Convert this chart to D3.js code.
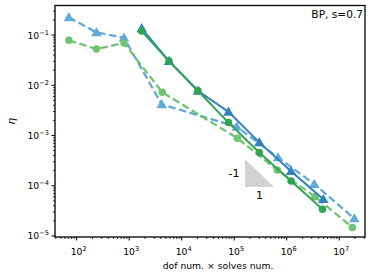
<!DOCTYPE html>
<html><head><meta charset="utf-8">
<script src="https://cdn.jsdelivr.net/npm/d3@7"></script>
<style>body{margin:0;background:#fff}svg{display:block;font-family:"DejaVu Sans",sans-serif}</style>
</head><body><svg id="c" width="374" height="279"></svg>
<script>
// data
const lightX = [71, 238, 796, 4160, 1.12e5, 6.83e5, 3.36e6, 1.94e7];
const lightBlueY = [0.225, 0.113, 0.0883, 0.00417, 0.00149, 3.66e-4, 1.08e-4, 2.23e-5];
const lightGreenX = [71, 238, 796, 4270, 1.15e5, 6.62e5, 3.46e6, 1.78e7];
const lightGreenY = [0.0784, 0.0526, 0.0693, 0.00723, 8.87e-4, 2.05e-4, 6.07e-5, 1.48e-5];
const darkX = [1730, 5730, 2.04e4, 7.78e4, 3.0e5, 1.21e6, 4.98e6];
const darkBlueY = [0.136, 0.0303, 0.00776, 0.00296, 7.3e-4, 1.95e-4, 5.41e-5];
const darkGreenX = [1730, 5730, 2.04e4, 7.78e4, 3.0e5, 1.21e6, 4.8e6];
const darkGreenY = [0.120, 0.0303, 0.00776, 0.00181, 4.6e-4, 1.24e-4, 3.42e-5];
const slopeTri = {x0: 1.6e5, factor: 3.6, y0: 9.5e-5};
const xTickExps = [2, 3, 4, 5, 6, 7];
const yTickExps = [-5, -4, -3, -2, -1];
const title = "BP, s=0.7";
const xLabel = "dof num. \u00d7 solves num.";
const yLabel = "\u03b7";

const svg = d3.select("#c");
const L = 55, R = 365, T = 5.5, B = 237;
const x = d3.scaleLog().domain([Math.pow(10, 1.587), Math.pow(10, 7.491)]).range([L, R]);
const y = d3.scaleLog().domain([Math.pow(10, -5.02), Math.pow(10, -0.412)]).range([B, T]);

const series = [
  {xs: lightX, ys: lightBlueY, color: "#62aad9", dash: "7.5,3.5", marker: "tri", w: 2.3},
  {xs: lightGreenX, ys: lightGreenY, color: "#70c371", dash: "7.5,3.5", marker: "circ", w: 2.3},
  {xs: darkX, ys: darkBlueY, color: "#3182bd", dash: null, marker: "tri", w: 2},
  {xs: darkGreenX, ys: darkGreenY, color: "#31a354", dash: null, marker: "circ", w: 2}
];

const g = svg.append("g");
// slope triangle
const tx0 = slopeTri.x0, tx1 = slopeTri.x0 * slopeTri.factor, ty0 = slopeTri.y0, ty1 = slopeTri.y0 * slopeTri.factor;
g.append("path").attr("d", `M${x(tx0)},${y(ty1)}L${x(tx0)},${y(ty0)}L${x(tx1)},${y(ty0)}Z`).attr("fill", "#d3d3d3");
g.append("text").attr("x", x(tx0) - 5.5).attr("y", (y(ty0) + y(ty1)) / 2 + 4.3).attr("text-anchor", "end").attr("font-size", 11).text("-1");
g.append("text").attr("x", (x(tx0) + x(tx1)) / 2).attr("y", y(ty0) + 11.8).attr("text-anchor", "middle").attr("font-size", 11).text("1");

const line = d3.line().x(d => x(d[0])).y(d => y(d[1]));
series.forEach(s => {
  const pts = s.xs.map((v, i) => [v, s.ys[i]]);
  g.append("path").attr("d", line(pts)).attr("fill", "none").attr("stroke", s.color)
    .attr("stroke-width", s.w).attr("stroke-dasharray", s.dash);
  const sym = d3.symbol().type(s.marker === "tri" ? d3.symbolTriangle : d3.symbolCircle).size(s.marker === "tri" ? 48 : 44);
  g.selectAll(null).data(pts).enter().append("path").attr("d", sym)
    .attr("transform", d => `translate(${x(d[0])},${y(d[1]) + (s.marker === "tri" ? 0.8 : 0)})`)
    .attr("fill", s.color);
});

// frame
svg.append("rect").attr("x", L).attr("y", T).attr("width", R - L).attr("height", B - T)
  .attr("fill", "none").attr("stroke", "#000").attr("stroke-width", 1.3);

// ticks
const minorX = [], minorY = [];
for (let e = 1; e <= 7; e++) for (let m = 2; m <= 9; m++) { const v = m * Math.pow(10, e); if (v >= x.domain()[0] && v <= x.domain()[1]) minorX.push(v); }
for (let e = -6; e <= -1; e++) for (let m = 2; m <= 9; m++) { const v = m * Math.pow(10, e); if (v >= y.domain()[0] && v <= y.domain()[1]) minorY.push(v); }
const ax = svg.append("g").attr("stroke", "#000");
minorX.forEach(v => ax.append("line").attr("x1", x(v)).attr("x2", x(v)).attr("y1", B).attr("y2", B + 2).attr("stroke-width", 0.8));
minorY.forEach(v => ax.append("line").attr("y1", y(v)).attr("y2", y(v)).attr("x1", L).attr("x2", L - 2).attr("stroke-width", 0.8));
xTickExps.forEach(e => ax.append("line").attr("x1", x(Math.pow(10, e))).attr("x2", x(Math.pow(10, e))).attr("y1", B).attr("y2", B + 3.5).attr("stroke-width", 1));
yTickExps.forEach(e => ax.append("line").attr("y1", y(Math.pow(10, e))).attr("y2", y(Math.pow(10, e))).attr("x1", L).attr("x2", L - 3.5).attr("stroke-width", 1));

function pow10Label(sel, e) {
  sel.append("tspan").text("10");
  sel.append("tspan").attr("dy", -4).attr("font-size", 6.6).text(String(e).replace("-", "\u2212"));
}
xTickExps.forEach(e => {
  const t = svg.append("text").attr("x", x(Math.pow(10, e)) + 2).attr("y", B + 18).attr("text-anchor", "middle").attr("font-size", 9.25);
  pow10Label(t, e);
});
yTickExps.forEach(e => {
  const t = svg.append("text").attr("x", L - 6).attr("y", y(Math.pow(10, e)) + 3.5).attr("text-anchor", "end").attr("font-size", 9.25);
  pow10Label(t, e);
});

svg.append("text").attr("x", R - 2).attr("y", T + 12).attr("text-anchor", "end").attr("font-size", 10.6).text(title);
svg.append("text").attr("x", 218).attr("y", 268.5).attr("text-anchor", "middle").attr("font-size", 9.25).text(xLabel);
svg.append("text").attr("transform", `translate(15,${(T + B) / 2}) rotate(-90)`).attr("text-anchor", "middle")
  .attr("font-size", 10.5).attr("font-style", "italic").text(yLabel);
</script></body></html>
